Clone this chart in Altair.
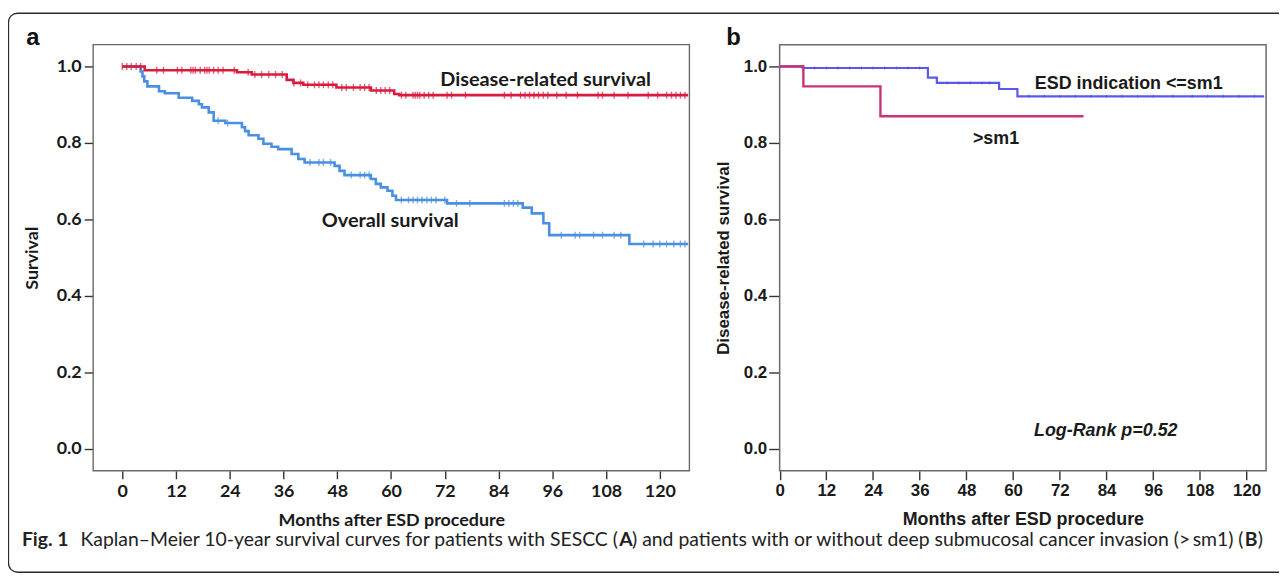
import altair as alt
import pandas as pd

W, H = 1279, 569

FONT_A = "Lato, 'Open Sans', sans-serif"
FONT_B = "'Liberation Sans', Arial, sans-serif"
FONT_CAP = "Lato, 'Open Sans', sans-serif"

# ---------------- Panel a : Kaplan-Meier, all patients ----------------
A_XTICKS = [0, 12, 24, 36, 48, 60, 72, 84, 96, 108, 120]
A_YTICKS = [0.0, 0.2, 0.4, 0.6, 0.8, 1.0]

A_DRS_T = [0, 5.0, 25.6, 28.9, 36.7, 38.2, 40.4, 47.8, 55.5, 60.7, 61.8, 126.3]
A_DRS_S = [1.0, 0.990, 0.985, 0.979, 0.965, 0.957, 0.952, 0.945, 0.937, 0.928, 0.925, 0.925]

A_OS_T = [0, 4.1, 4.5, 4.9, 5.6, 8.2, 9.5, 12.6, 15.6, 17.1, 17.8, 19.3, 20.4, 23.0, 26.7,
          27.4, 28.2, 30.4, 31.5, 33.3, 34.8, 37.8, 39.3, 40.7, 47.4, 48.5, 49.6, 55.5, 56.6,
          57.7, 59.2, 60.3, 61.1, 72.5, 89.4, 91.4, 94.0, 95.3, 113.2, 126.3]
A_OS_S = [1.0, 0.987, 0.974, 0.961, 0.948, 0.935, 0.930, 0.918, 0.910, 0.901, 0.893, 0.880,
          0.858, 0.852, 0.841, 0.831, 0.820, 0.811, 0.798, 0.790, 0.784, 0.771, 0.758, 0.749,
          0.740, 0.727, 0.716, 0.706, 0.693, 0.684, 0.675, 0.662, 0.651, 0.642, 0.631, 0.616,
          0.590, 0.559, 0.536, 0.536]

A_DRS_CENSOR = [0.0, 1.0, 2.0, 3.1, 4.1, 7.7, 9.2, 12.3, 13.3, 15.3, 15.8, 16.3, 17.4, 18.4,
                18.9, 19.4, 20.4, 21.4, 22.5, 25.0, 28.1, 29.6, 31.1, 32.7, 34.2, 35.7, 38.3,
                39.8, 41.4, 42.9, 43.9, 44.9, 46.0, 47.0, 49.0, 50.0, 51.6, 53.1, 54.1, 55.1,
                56.7, 57.7, 58.7, 59.7, 62.3, 63.3, 64.9, 65.4, 65.9, 66.4, 67.4, 68.4, 69.4,
                72.5, 73.5, 76.6, 85.3, 86.8, 88.9, 89.9, 90.9, 91.9, 92.9, 94.0, 95.0, 97.0,
                99.1, 101.6, 106.2, 107.2, 109.8, 112.9, 117.4, 119.5, 121.5, 122.6, 123.6,
                124.6, 125.6]
A_OS_CENSOR = [21.4, 23.5, 41.9, 43.9, 44.9, 46.5, 51.1, 53.1, 54.1, 55.1, 62.3, 63.9, 64.9,
               65.9, 66.9, 68.0, 69.0, 70.0, 72.0, 74.6, 77.6, 85.3, 86.3, 87.3, 88.3, 98.0,
               101.1, 102.1, 105.2, 107.2, 109.8, 111.3, 116.4, 118.5, 120.0, 121.5, 123.1,
               124.6, 125.6]

A_LABELS = ["Disease-related survival", "Overall survival"]
A_LABEL_T = [94.5, 59.8]
A_LABEL_S = [0.964, 0.596]

# ---------------- Panel b : by depth of invasion ----------------
B_XTICKS = [0, 12, 24, 36, 48, 60, 72, 84, 96, 108, 120]
B_YTICKS = [0.0, 0.2, 0.4, 0.6, 0.8, 1.0]

B_LOW_T = [0, 5.9, 38.1, 40.4, 56.4, 61.1, 124.5]
B_LOW_S = [1.0, 0.996, 0.971, 0.957, 0.941, 0.922, 0.922]
B_HIGH_T = [0, 6.1, 25.9, 78.1]
B_HIGH_S = [1.0, 0.948, 0.870, 0.870]
B_LOW_CENSOR = [9, 12, 15, 18, 21, 24, 27, 30, 33, 36, 43, 46, 49, 52, 54, 64, 68, 72, 76,
                80, 84, 88, 92, 96, 101, 106, 110, 114, 118, 122]

B_LABELS = ["ESD indication <=sm1", ">sm1"]
B_LABEL_T = [89.7, 55.6]
B_LABEL_S = [0.955, 0.810]
B_NOTE = "Log-Rank p=0.52"
B_NOTE_T = 83.8
B_NOTE_S = 0.048


def step_value(ts, ss, t):
    v = ss[0]
    for ti, si in zip(ts, ss):
        if ti <= t:
            v = si
    return v


def curve_df(ts, ss):
    return pd.DataFrame({"t": ts, "s": ss})


def censor_df(ts, ss, cs):
    return pd.DataFrame({"t": cs, "s": [step_value(ts, ss, c) for c in cs]})


# pixel placement of the two plot frames inside the figure
A_XDOM, A_XRANGE = [-6.5, 126.6], [85.7, 685.7]
B_XDOM, B_XRANGE = [0, 125], [776.5, 1266.0]
YDOM, YRANGE = [-0.057, 1.057], [463.9, 35.1]

A_XS = alt.Scale(domain=A_XDOM, range=A_XRANGE, nice=False, zero=False)
A_YS = alt.Scale(domain=YDOM, range=YRANGE, nice=False, zero=False)
B_XS = alt.Scale(domain=B_XDOM, range=B_XRANGE, nice=False, zero=False)
B_YS = alt.Scale(domain=YDOM, range=YRANGE, nice=False, zero=False)

TXT = "#1a1a1a"

A_XAX = alt.Axis(orient="bottom", offset=-(H - YRANGE[0]), values=A_XTICKS, domain=False,
                 grid=False, tickSize=8, tickWidth=1.4, tickColor="#333",
                 labelFont=FONT_A, labelFontSize=18, labelFontWeight="bold", labelColor=TXT,
                 labelPadding=4, labelFlush=False, labelOverlap=False,
                 title="Months after ESD procedure", titleFont=FONT_A, titleFontSize=18,
                 titleFontWeight="bold", titleColor=TXT, titleY=50, titleBaseline="middle")
A_YAX = alt.Axis(orient="left", offset=-A_XRANGE[0], values=A_YTICKS, format=".1f",
                 domain=False, grid=False, tickSize=9, tickWidth=1.4, tickColor="#333",
                 labelFont=FONT_A, labelFontSize=18, labelFontWeight="bold", labelColor=TXT,
                 labelPadding=3, labelFlush=False, labelOverlap=False,
                 title="Survival", titleFont=FONT_A, titleFontSize=18, titleFontWeight="bold",
                 titleColor=TXT, titleX=-60.7, titleBaseline="middle")
B_XAX = alt.Axis(orient="bottom", offset=-(H - YRANGE[0]), values=B_XTICKS, domain=False,
                 grid=False, tickSize=9, tickWidth=1.4, tickColor="#333",
                 labelFont=FONT_B, labelFontSize=17, labelFontWeight="bold", labelColor=TXT,
                 labelPadding=3, labelFlush=False, labelOverlap=False,
                 title="Months after ESD procedure", titleFont=FONT_B, titleFontSize=18,
                 titleFontWeight="bold", titleColor=TXT, titleY=49, titleBaseline="middle")
B_YAX = alt.Axis(orient="left", offset=-B_XRANGE[0], values=B_YTICKS, format=".1f",
                 domain=False, grid=False, tickSize=11, tickWidth=1.4, tickColor="#333",
                 labelFont=FONT_B, labelFontSize=17, labelFontWeight="bold", labelColor=TXT,
                 labelPadding=2, labelFlush=False, labelOverlap=False,
                 title="Disease-related survival", titleFont=FONT_B, titleFontSize=17,
                 titleFontWeight="bold", titleColor=TXT, titleX=-56, titleBaseline="middle")


def enc_a(**kw):
    return dict(x=alt.X("t:Q", scale=A_XS, axis=A_XAX), y=alt.Y("s:Q", scale=A_YS, axis=A_YAX), **kw)


def enc_b(**kw):
    return dict(x=alt.X("t:Q", scale=B_XS, axis=B_XAX), y=alt.Y("s:Q", scale=B_YS, axis=B_YAX), **kw)


# ---- panel a layers
frame_a = alt.Chart(pd.DataFrame({"t": [A_XDOM[0]], "t2": [A_XDOM[1]], "s": [YDOM[0]], "s2": [YDOM[1]]})).mark_rect(
    fillOpacity=0, stroke="#6a6a6a", strokeWidth=1.4
).encode(**enc_a(x2="t2:Q", y2="s2:Q"))

RED_A = "#d81b3f"
BLUE_A = "#4a8fe0"

os_line = alt.Chart(curve_df(A_OS_T, A_OS_S)).mark_line(
    interpolate="step-after", color=BLUE_A, strokeWidth=2.6).encode(**enc_a())
os_cens = alt.Chart(censor_df(A_OS_T, A_OS_S, A_OS_CENSOR)).mark_tick(
    orient="vertical", color=BLUE_A, size=7, thickness=1.4).encode(**enc_a())
drs_line = alt.Chart(curve_df(A_DRS_T, A_DRS_S)).mark_line(
    interpolate="step-after", color=RED_A, strokeWidth=2.6).encode(**enc_a())
drs_cens = alt.Chart(censor_df(A_DRS_T, A_DRS_S, A_DRS_CENSOR)).mark_tick(
    orient="vertical", color=RED_A, size=7, thickness=1.4).encode(**enc_a())
labels_a = alt.Chart(pd.DataFrame({"t": A_LABEL_T, "s": A_LABEL_S, "label": A_LABELS})).mark_text(
    font=FONT_A, fontSize=20, fontWeight="bold", color=TXT, align="center", baseline="middle"
).encode(**enc_a(text="label:N"))

panel_a = alt.layer(frame_a, os_line, os_cens, drs_line, drs_cens, labels_a)

# ---- panel b layers
frame_b = alt.Chart(pd.DataFrame({"t": [B_XDOM[0]], "t2": [B_XDOM[1]], "s": [YDOM[0]], "s2": [YDOM[1]]})).mark_rect(
    fillOpacity=0, stroke="#6a6a6a", strokeWidth=1.5
).encode(**enc_b(x2="t2:Q", y2="s2:Q"))

BLUE_B = "#5959ee"
MAG_B = "#c8337a"

low_line = alt.Chart(curve_df(B_LOW_T, B_LOW_S)).mark_line(
    interpolate="step-after", color=BLUE_B, strokeWidth=2.2).encode(**enc_b())
low_cens = alt.Chart(censor_df(B_LOW_T, B_LOW_S, B_LOW_CENSOR)).mark_tick(
    orient="vertical", color="#4747c8", size=3, thickness=1).encode(**enc_b())
high_line = alt.Chart(curve_df(B_HIGH_T, B_HIGH_S)).mark_line(
    interpolate="step-after", color=MAG_B, strokeWidth=2.4).encode(**enc_b())
labels_b = alt.Chart(pd.DataFrame({"t": B_LABEL_T, "s": B_LABEL_S, "label": B_LABELS})).mark_text(
    font=FONT_B, fontSize=18, fontWeight="bold", color=TXT, align="center", baseline="middle"
).encode(**enc_b(text="label:N"))
note_b = alt.Chart(pd.DataFrame({"t": [B_NOTE_T], "s": [B_NOTE_S], "label": [B_NOTE]})).mark_text(
    font=FONT_B, fontSize=18, fontWeight="bold", fontStyle="italic", color=TXT,
    align="center", baseline="middle"
).encode(**enc_b(text="label:N"))

panel_b = alt.layer(frame_b, low_line, low_cens, high_line, labels_b, note_b)

# ---- figure decorations (border, panel letters, caption)
one = pd.DataFrame({"k": [0]})
border = alt.Chart(one).mark_rect(cornerRadius=9, fillOpacity=0, stroke="#2a2a2a", strokeWidth=1.3).encode(
    x=alt.value(0.5), x2=alt.value(1300), y=alt.value(3.5), y2=alt.value(566))

PANEL_LETTERS = ["a", "b"]
letter_a = alt.Chart(one).mark_text(font=FONT_B, fontSize=24, fontWeight="bold", color="#111",
                                    align="center", baseline="middle").encode(
    x=alt.value(25), y=alt.value(28), text=alt.value(PANEL_LETTERS[0]))
letter_b = alt.Chart(one).mark_text(font=FONT_B, fontSize=24, fontWeight="bold", color="#111",
                                    align="center", baseline="middle").encode(
    x=alt.value(730), y=alt.value(28), text=alt.value(PANEL_LETTERS[1]))

CAPTION_PARTS = ["Fig. 1", "Kaplan\u2013Meier 10-year survival curves for patients with SESCC (", "A",
                 ") and patients with or without deep submucosal cancer invasion (>\u2009sm1) (", "B", ")"]
CAPTION_BOLD = [True, False, True, False, True, False]
CAPTION_X = [14, 73, 615, 628, 1244.5, 1257.5]

cap_layers = []
for txt, bold, xx in zip(CAPTION_PARTS, CAPTION_BOLD, CAPTION_X):
    cap_layers.append(
        alt.Chart(one).mark_text(font=FONT_CAP, fontSize=19.5, fontWeight="bold" if bold else "normal",
                                 color="#222", align="left", baseline="middle").encode(
            x=alt.value(xx), y=alt.value(534), text=alt.value(txt)))

deco = alt.layer(border, letter_a, letter_b, *cap_layers)

chart = alt.layer(panel_a, panel_b, deco).resolve_scale(
    x="independent", y="independent").resolve_axis(x="independent", y="independent").properties(
    width=W, height=H, autosize=alt.AutoSizeParams(type="none"), padding=0,
    background="white").configure_view(stroke=None)

chart.save("out.html", embed_options={"renderer": "svg", "actions": False})
